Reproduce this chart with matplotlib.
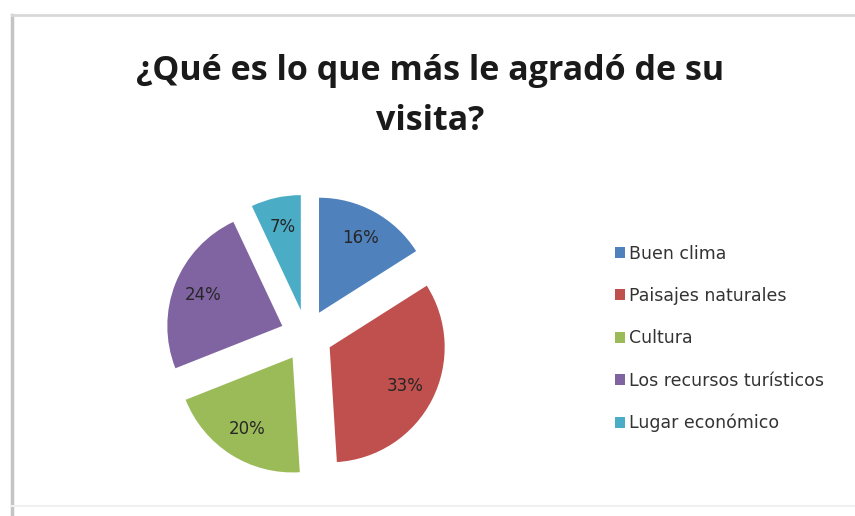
import matplotlib.pyplot as plt
from matplotlib.lines import Line2D

labels = ['Buen clima', 'Paisajes naturales', 'Cultura',
          'Los recursos turísticos', 'Lugar económico']
values = [16, 33, 20, 24, 7]
colors = ['#4F81BD', '#C0504D', '#9BBB59', '#8064A2', '#4BACC6']

plt.rcParams['font.family'] = ['DejaVu Sans']

W, H = 855, 516
fig = plt.figure(figsize=(W / 100, H / 100), dpi=100)

# chart frame (left and top edges visible)
fig.add_artist(Line2D([12 / W, 12 / W], [1 - 15 / H, 0], color='#c4c4c4', lw=2.5))
fig.add_artist(Line2D([12 / W, 1], [1 - 15 / H, 1 - 15 / H], color='#d8d8d8', lw=2))
fig.add_artist(Line2D([12 / W, 1], [1 - 506 / H, 1 - 506 / H], color='#f0f0f0', lw=1.5))

# pie axes: centre (306, 335) px, radius 115 px
cx, cy, r, half = 306.5, 335.5, 115, 160
ax = fig.add_axes([(cx - half) / W, 1 - (cy + half) / H, 2 * half / W, 2 * half / H])
wedges, _, autotexts = ax.pie(values, colors=colors, startangle=90, counterclock=False,
                              explode=[0.226] * 5, autopct='%d%%', pctdistance=0.74,
                              radius=1, wedgeprops=dict(linewidth=0))
for t in autotexts:
    t.set_fontsize(12)
    t.set_color('#262626')
lim = half / r
ax.set_xlim(-lim, lim)
ax.set_ylim(-lim, lim)
ax.set_aspect('equal')
ax.axis('off')

fig.text(430 / W, 1 - 130 / H, '¿Qué es lo que más le agradó de su\nvisita?',
         ha='center', va='baseline', fontsize=24.5, fontweight='bold',
         family=['Open Sans', 'DejaVu Sans'], color='#1a1a1a', linespacing=1.63)

leg = fig.legend(wedges, labels, loc='upper left', bbox_to_anchor=(606 / W, 1 - 236 / H),
                 frameon=False, fontsize=12.5, handlelength=0.6, handleheight=0.6,
                 handletextpad=0.2, labelspacing=1.40, borderpad=0)
for t in leg.get_texts():
    t.set_color('#333333')

fig.savefig('out.png', dpi=100, facecolor='white')
